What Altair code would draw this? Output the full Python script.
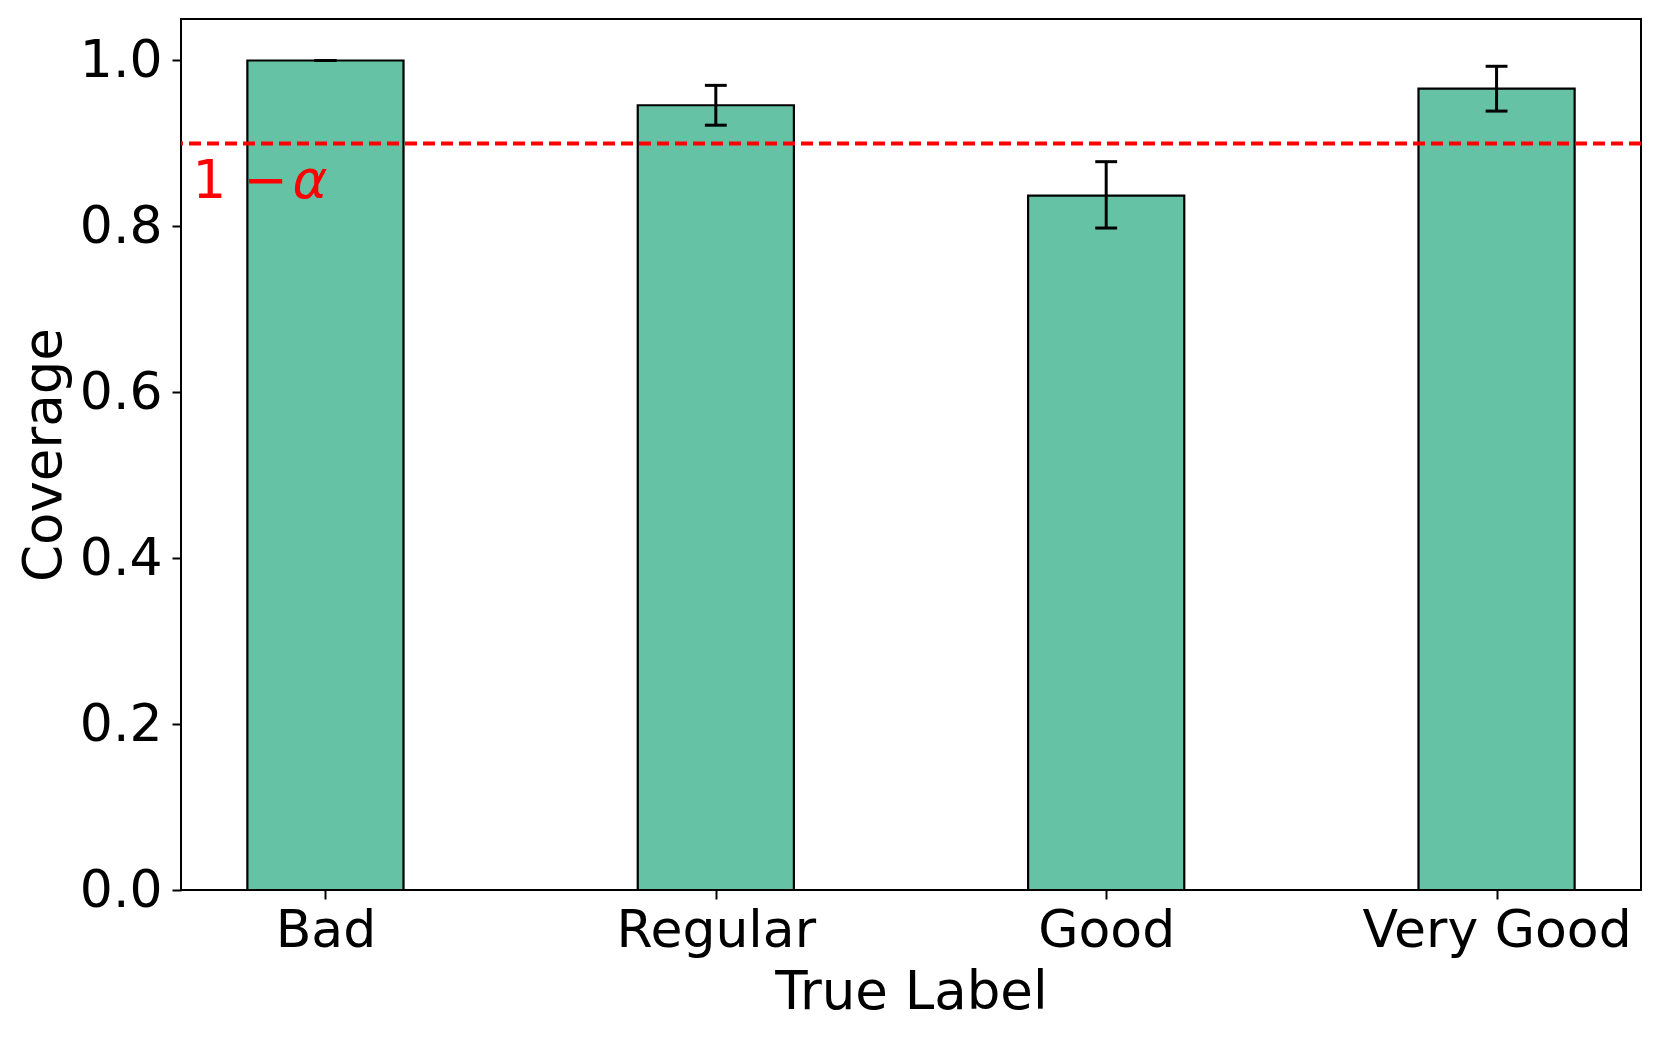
import json
import altair as alt
import pandas as pd

labels = ["Bad", "Regular", "Good", "Very Good"]
coverage = [1.0, 0.946, 0.837, 0.966]
err_lo = [1.0, 0.922, 0.798, 0.939]
err_hi = [1.0, 0.970, 0.878, 0.993]
target = 0.9

BAR_HALF = 0.2
CAP_HALF = 0.028

df = pd.DataFrame({
    "idx": list(range(len(labels))),
    "label": labels,
    "coverage": coverage,
    "lo": err_lo,
    "hi": err_hi,
})
df["x0"] = df["idx"] - BAR_HALF
df["x1"] = df["idx"] + BAR_HALF
df["c0"] = df["idx"] - CAP_HALF
df["c1"] = df["idx"] + CAP_HALF

W, H = 1460, 871
FONT = "DejaVu Sans"
FS = 53
LFS = 52

xscale = alt.Scale(domain=[-0.37, 3.37], nice=False, zero=False)
yscale = alt.Scale(domain=[0, 1.05], nice=False)

label_expr = json.dumps(labels) + "[datum.value]"

x_axis = alt.Axis(
    values=[0, 1, 2, 3], labelExpr=label_expr, title="True Label",
    grid=False, domain=False, tickSize=9, tickWidth=2, tickColor="black",
    labelFontSize=LFS, labelFont=FONT, labelColor="black", labelLimit=0,
    labelBaseline="alphabetic", labelPadding=47, labelAngle=0,
    titleFontSize=FS, titleFont=FONT, titleFontWeight="normal", titleColor="black",
    titleBaseline="alphabetic", titleY=118, titleX=W / 2, titleAlign="center",
)
y_axis = alt.Axis(
    values=[0, 0.2, 0.4, 0.6, 0.8, 1.0], format=".1f", title="Coverage",
    grid=False, domain=False, tickSize=9, tickWidth=2, tickColor="black",
    labelFontSize=LFS, labelFont=FONT, labelColor="black", labelPadding=10,
    titleFontSize=FS, titleFont=FONT, titleFontWeight="normal", titleColor="black",
    titleAngle=-90, titleBaseline="alphabetic", titleX=-121, titleY=H / 2,
    titleAlign="center",
)

base = alt.Chart(df)

bars = base.mark_bar(color="#66c2a5", stroke="black", strokeWidth=2.2).encode(
    x=alt.X("x0:Q", scale=xscale, axis=x_axis),
    x2="x1:Q",
    y=alt.Y("coverage:Q", scale=yscale, axis=y_axis),
    y2=alt.datum(0),
)

err = base.mark_rule(color="black", strokeWidth=3).encode(
    x=alt.X("idx:Q", scale=xscale),
    y=alt.Y("lo:Q", scale=yscale),
    y2="hi:Q",
)
cap_top = base.mark_rule(color="black", strokeWidth=3).encode(
    x=alt.X("c0:Q", scale=xscale), x2="c1:Q",
    y=alt.Y("hi:Q", scale=yscale),
)
cap_bot = base.mark_rule(color="black", strokeWidth=3).encode(
    x=alt.X("c0:Q", scale=xscale), x2="c1:Q",
    y=alt.Y("lo:Q", scale=yscale),
)

ref_df = pd.DataFrame({"y": [target], "x": [-0.33]})
ref = alt.Chart(ref_df).mark_rule(color="#ff0000", strokeWidth=4, strokeDash=[12, 6]).encode(
    y=alt.Y("y:Q", scale=yscale),
)
txt1 = alt.Chart(ref_df).mark_text(
    text="1 −", color="#ff0000", fontSize=FS, font=FONT, align="left",
    baseline="alphabetic", dy=55, dx=-4,
).encode(x=alt.X("x:Q", scale=xscale), y=alt.Y("y:Q", scale=yscale))
txt2 = alt.Chart(ref_df).mark_text(
    text="α", color="#ff0000", fontSize=FS, font=FONT, fontStyle="italic",
    align="left", baseline="alphabetic", dy=55, dx=96,
).encode(x=alt.X("x:Q", scale=xscale), y=alt.Y("y:Q", scale=yscale))

chart = alt.layer(bars, err, cap_top, cap_bot, ref, txt1, txt2).properties(
    width=W, height=H,
    autosize=alt.AutoSizeParams(type="none"),
    padding={"left": 173, "top": 11, "right": 11, "bottom": 140},
    background="white",
).configure_view(stroke="black", strokeWidth=2)

chart.save("out.html", embed_options={"renderer": "svg", "actions": False})
